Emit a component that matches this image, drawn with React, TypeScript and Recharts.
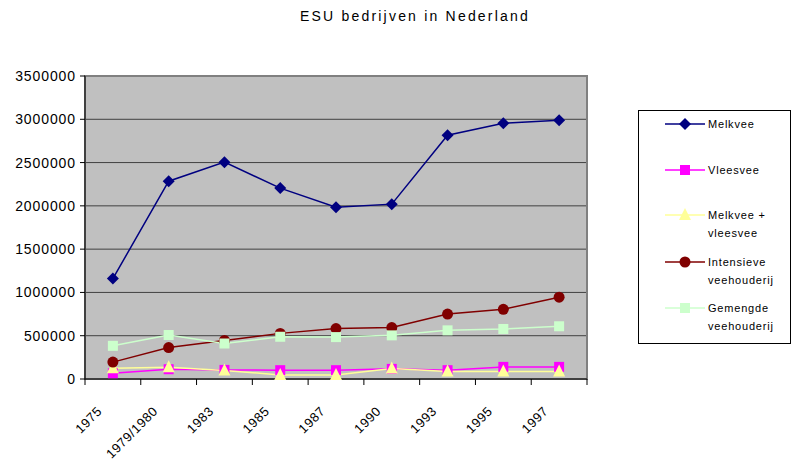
import React from 'react';
import {
  LineChart, Line, XAxis, YAxis, CartesianGrid, Legend, ReferenceArea
} from 'recharts';

const years = ['1975', '1979/1980', '1983', '1985', '1987', '1990', '1993', '1995', '1997'];

const melkvee = [1160000, 2285000, 2505000, 2205000, 1985000, 2020000, 2815000, 2955000, 2990000];
const vleesvee = [66000, 113000, 105000, 102000, 102000, 117000, 102000, 140000, 140000];
const melkveeVleesvee = [125000, 137000, 98000, 47000, 47000, 121000, 86000, 86000, 86000];
const intensieve = [195000, 363000, 445000, 527000, 582000, 594000, 750000, 805000, 945000];
const gemengde = [383000, 508000, 410000, 488000, 484000, 504000, 562000, 578000, 609000];

const yTicks = [0, 500000, 1000000, 1500000, 2000000, 2500000, 3000000, 3500000];
const xTicks = [0, 1, 2, 3, 4, 5, 6, 7, 8, 9];

interface SeriesDef {
  key: string;
  name: string[];
  color: string;
  shape: 'diamond' | 'square' | 'triangle' | 'circle';
}

const series: SeriesDef[] = [
  { key: 'melkvee', name: ['Melkvee'], color: '#000080', shape: 'diamond' },
  { key: 'vleesvee', name: ['Vleesvee'], color: '#ff00ff', shape: 'square' },
  { key: 'melkveeVleesvee', name: ['Melkvee +', 'vleesvee'], color: '#ffff99', shape: 'triangle' },
  { key: 'intensieve', name: ['Intensieve', 'veehouderij'], color: '#800000', shape: 'circle' },
  { key: 'gemengde', name: ['Gemengde', 'veehouderij'], color: '#ccffcc', shape: 'square' },
];

// categories sit in the middle of their band, so x runs 0.5 .. 8.5
const data = years.map((year, i) => ({
  x: i + 0.5,
  year,
  melkvee: melkvee[i],
  vleesvee: vleesvee[i],
  melkveeVleesvee: melkveeVleesvee[i],
  intensieve: intensieve[i],
  gemengde: gemengde[i],
}));

const FONT = 'Arial, "Liberation Sans", sans-serif';

const Marker = ({ shape, color, cx, cy }: { shape: string; color: string; cx: number; cy: number }) => {
  switch (shape) {
    case 'diamond':
      return <path d={`M${cx},${cy - 6}L${cx + 6},${cy}L${cx},${cy + 6}L${cx - 6},${cy}Z`} fill={color} />;
    case 'square':
      return <rect x={cx - 5} y={cy - 5} width={10} height={10} fill={color} />;
    case 'triangle':
      return <path d={`M${cx},${cy - 7}L${cx + 6},${cy + 5}L${cx - 6},${cy + 5}Z`} fill={color} />;
    default:
      return <circle cx={cx} cy={cy} r={5.5} fill={color} />;
  }
};

const makeDot = (s: SeriesDef) => (props: any) => {
  const { cx, cy, index } = props;
  if (cx == null || cy == null) return <g key={`${s.key}-${index}`} />;
  return (
    <g key={`${s.key}-${index}`}>
      <Marker shape={s.shape} color={s.color} cx={cx} cy={cy} />
    </g>
  );
};

// tick marks stand on the band edges; the label goes under the band centre
const YearTick = (props: any) => {
  const { x, y, width, payload } = props;
  const label = years[payload.value];
  if (label == null) return <g />;
  const half = width / (xTicks.length - 1) / 2;
  const ax = x + half - 10;
  const ay = y + 27;
  return (
    <text
      x={ax}
      y={ay}
      transform={`rotate(-45, ${ax}, ${ay})`}
      textAnchor="end"
      fontFamily={FONT}
      fontSize={13}
      letterSpacing={0.6}
      fill="#000"
    >
      {label}
    </text>
  );
};

const LegendBox = () => {
  const rows = [14, 60, 105, 152, 198];
  return (
    <svg width={153} height={234} style={{ display: 'block' }}>
      <rect x={0.5} y={0.5} width={152} height={233} fill="#fff" stroke="#000" />
      {series.map((s, i) => (
        <g key={s.key}>
          <line x1={27} x2={67} y1={rows[i]} y2={rows[i]} stroke={s.color} strokeWidth={1.5} />
          <Marker shape={s.shape} color={s.color} cx={47} cy={rows[i]} />
          {s.name.map((t, j) => (
            <text
              key={t}
              x={70}
              y={rows[i] + 4 + j * 18}
              fontFamily={FONT}
              fontSize={11}
              letterSpacing={0.8}
              fill="#000"
            >
              {t}
            </text>
          ))}
        </g>
      ))}
    </svg>
  );
};

const App: React.FC = () => {
  return (
    <div style={{ position: 'absolute', left: 0, top: 0, width: 792, height: 459, background: '#fff' }}>
      <div
        style={{
          position: 'absolute', left: 0, top: 8, width: 830, textAlign: 'center',
          fontFamily: FONT, fontSize: 14, letterSpacing: 2.2, color: '#000'
        }}
      >
        ESU bedrijven in Nederland
      </div>
      <LineChart
        width={792}
        height={459}
        data={data}
        margin={{ top: 76, right: 52, bottom: 10, left: 0 }}
      >
        <CartesianGrid vertical={false} fill="#c0c0c0" stroke="#404040" strokeOpacity={1} />
        <ReferenceArea x1={0} x2={9} y1={0} y2={3500000} fill="none" stroke="#808080" strokeWidth={2} ifOverflow="visible" />
        <XAxis
          dataKey="x"
          type="number"
          domain={[0, 9]}
          ticks={xTicks}
          interval={0}
          tick={<YearTick />}
          tickSize={6}
          tickMargin={0}
          axisLine={{ stroke: '#000' }}
          tickLine={{ stroke: '#000' }}
          height={70}
        />
        <YAxis
          type="number"
          domain={[0, 3500000]}
          ticks={yTicks}
          width={85}
          interval={0}
          tickSize={5}
          axisLine={{ stroke: '#000' }}
          tickLine={{ stroke: '#000' }}
          tick={{ fill: '#000', fontFamily: FONT, fontSize: 14, letterSpacing: 0.9 }}
          tickMargin={4}
        />
        <Legend
          layout="vertical"
          align="right"
          verticalAlign="middle"
          content={<LegendBox />}
          wrapperStyle={{ left: 638, top: 110, right: 'auto', width: 153, height: 234 }}
        />
        {series.map(s => (
          <Line
            key={s.key}
            dataKey={s.key}
            name={s.name.join(' ')}
            stroke={s.color}
            strokeWidth={1.5}
            dot={makeDot(s)}
            activeDot={false}
            isAnimationActive={false}
          />
        ))}
      </LineChart>
    </div>
  );
};

export default App;
